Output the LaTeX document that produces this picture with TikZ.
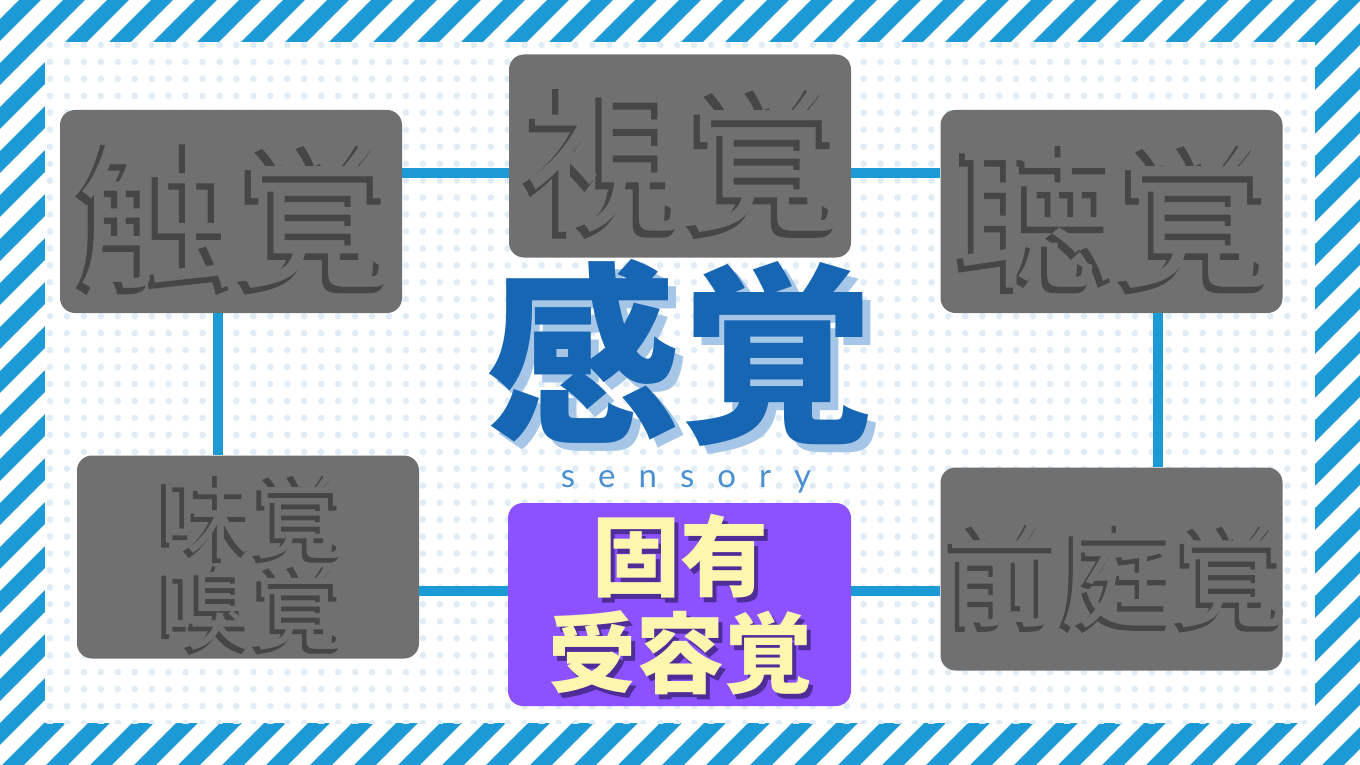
\documentclass[tikz,border=0pt]{standalone}
\usepackage{fontspec}
\newfontfamily\jp{Noto Sans CJK JP}
\newfontfamily\jpshadow[FakeBold=1.5]{Noto Sans CJK JP}
\newfontfamily\latinf{Lato}
\definecolor{stripeblue}{HTML}{1B9AD6}
\definecolor{dotblue}{HTML}{E0EDF7}
\definecolor{boxgray}{HTML}{707070}
\definecolor{shadowgray}{HTML}{464646}
\definecolor{propurple}{HTML}{8C52FF}
\definecolor{proyellow}{HTML}{FCF6AE}
\definecolor{proshadow}{HTML}{4F2D98}
\definecolor{mainblue}{HTML}{1766B3}
\definecolor{mainshadow}{HTML}{A6C6E7}
\definecolor{sensblue}{HTML}{4A90D0}
\begin{document}
\begin{tikzpicture}[x=1pt,y=-1pt,
  stripe/.style={draw=stripeblue,line width=15.5pt},
  grbox/.style={fill=boxgray,rounded corners=15pt,minimum width=342pt,minimum height=203pt,inner sep=0pt},
  prbox/.style={fill=propurple,rounded corners=15pt,minimum width=343pt,minimum height=203pt,inner sep=0pt},
  conn/.style={draw=stripeblue,line width=10pt},
  bigtxt/.style={font=\jp\fontsize{160}{160}\selectfont,inner sep=0pt,text=boxgray},
  bigshadow/.style={font=\jpshadow\fontsize{160}{160}\selectfont,inner sep=0pt,text=shadowgray},
  midtxt/.style={font=\jp\fontsize{114}{114}\selectfont,inner sep=0pt,text=boxgray},
  midshadow/.style={font=\jpshadow\fontsize{114}{114}\selectfont,inner sep=0pt,text=shadowgray},
  smalltxt/.style={font=\jp\fontsize{94}{91}\selectfont,inner sep=0pt,align=center,text=boxgray},
  smallshadow/.style={font=\jpshadow\fontsize{94}{91}\selectfont,inner sep=0pt,align=center,text=shadowgray},
  protxt/.style={font=\jp\bfseries\fontsize{88}{97}\selectfont,inner sep=0pt,align=center,text=proyellow},
  proshad/.style={protxt,text=proshadow},
  titletxt/.style={font=\jp\bfseries\fontsize{194}{194}\selectfont,inner sep=0pt,text=mainblue},
  titleshadow/.style={titletxt,text=mainshadow},
  senstxt/.style={font=\latinf\fontsize{33}{33}\selectfont,inner sep=0pt,text=sensblue,anchor=base}
]
\useasboundingbox (0,0) rectangle (1360,765);
\fill[white] (0,0) rectangle (1360,765);
% striped frame
\begin{scope}
  \clip (0,0) rectangle (1360,765);
  \foreach \k in {-19,...,33} {
    \draw[stripe] ({778+44*\k+30},-30) -- ({778+44*\k-795},795);
  }
\end{scope}
\fill[white] (45,42) rectangle (1315,723);
% dot pattern
\begin{scope}
  \clip (45,42) rectangle (1315,723);
  \foreach \i in {0,...,75} {
    \foreach \j in {0,...,40} {
      \fill[dotblue] ({50+16.95*\i},{45+16.95*\j}) circle (3.3);
    }
  }
\end{scope}
% boxes
\node[grbox] (touch) at (231,211.5) {};
\node[grbox] (sight) at (680,156) {};
\node[grbox] (hear)  at (1111.5,211.5) {};
\node[grbox] (taste) at (248,557) {};
\node[prbox] (prop)  at (679.5,604.5) {};
\node[grbox] (vest)  at (1111.5,569) {};
% connectors
\draw[conn] ([yshift=38.5pt]touch.east) -- ([yshift=38.5pt]touch.east -| sight.west);
\draw[conn] ([yshift=-17pt]sight.east) -- ([yshift=-17pt]sight.east -| hear.west);
\draw[conn] ([xshift=-13pt]touch.south) -- ([xshift=-13pt]touch.south |- taste.north);
\draw[conn] ([xshift=46.5pt]hear.south) -- ([xshift=46.5pt]hear.south |- vest.north);
\draw[conn] ([yshift=-34pt]taste.east) -- ([yshift=-34pt]taste.east -| prop.west);
\draw[conn] ([yshift=-34pt]taste.east -| prop.east) -- ([yshift=-34pt]taste.east -| vest.west);
% gray box texts
\node[bigshadow] at ([shift={(1,8)}]touch.center) {触覚};
\node[bigtxt] (touchT) at ([shift={(6,3)}]touch.center) {触覚};
\node[bigshadow] at ([shift={(1,8)}]sight.center) {視覚};
\node[bigtxt] (sightT) at ([shift={(6,3)}]sight.center) {視覚};
\node[bigshadow] at ([shift={(1,8)}]hear.center) {聴覚};
\node[bigtxt] (hearT) at ([shift={(6,3)}]hear.center) {聴覚};
\node[midshadow] at ([shift={(2,10)}]vest.center) {前庭覚};
\node[midtxt] (vestT) at ([shift={(6,6)}]vest.center) {前庭覚};
\node[smallshadow] at ([shift={(1,8)}]taste.center) {味覚\\嗅覚};
\node[smalltxt] (tasteT) at ([shift={(5,4)}]taste.center) {味覚\\嗅覚};
% proprioception text
\node[proshad] at ([shift={(5,5)}]prop.center) {固有\\受容覚};
\node[protxt] (propT) at ([shift={(1,0)}]prop.center) {固有\\受容覚};
% title
\node[titleshadow] at (688,361) {感覚};
\node[titletxt] (title) at (680,353) {感覚};
\node[senstxt] (sens) at (686,487) {\spaceskip=23pt s e n s o r y};
\end{tikzpicture}
\end{document}
